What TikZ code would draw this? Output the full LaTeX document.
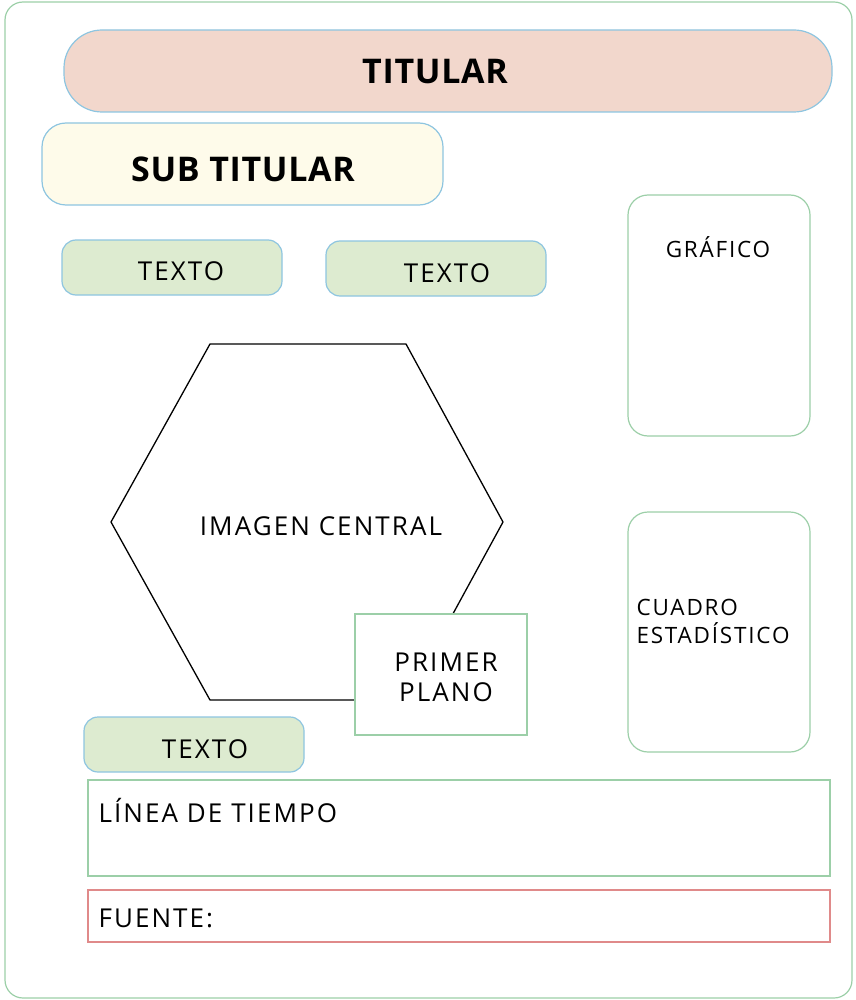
\documentclass[tikz,border=0pt]{standalone}
\usepackage{fontspec}
\setmainfont{Open Sans}
\newfontfamily\wide[LetterSpace=8]{Open Sans}
\newfontfamily\tit[LetterSpace=2]{Open Sans}
\definecolor{gb}{HTML}{9CCFA8}
\definecolor{bb}{HTML}{8EC5E0}
\definecolor{pk}{HTML}{F2D7CC}
\definecolor{cr}{HTML}{FEFBEA}
\definecolor{lg}{HTML}{DDEBD0}
\definecolor{rb}{HTML}{E08A8A}
\begin{document}
\begin{tikzpicture}[x=1pt,y=-1pt,
 pill/.style={draw=bb,line width=1.2pt,fill=lg,rounded corners=14pt},
 gbox/.style={draw=gb,line width=1.2pt,fill=white},
 lbl/.style={font=\wide\fontsize{26}{30}\selectfont},
 sm/.style={font=\wide\fontsize{22.5}{28}\selectfont},
 ttl/.style={font=\tit\fontsize{34}{38}\selectfont\bfseries}]
\useasboundingbox (0,0) rectangle (855,1000);
\draw[gb,line width=1.2pt,rounded corners=18pt] (5,2) rectangle (852,998);
\draw[draw=bb,line width=1.2pt,fill=pk,rounded corners=38pt] (64,30) rectangle (832,112);
\node[ttl] (t) at (435,71) {TITULAR};
\draw[draw=bb,line width=1.2pt,fill=cr,rounded corners=24pt] (42,123) rectangle (443,205);
\node[ttl] (st) at (243,169) {SUB TITULAR};
\draw[pill] (62,240) rectangle (282,295);
\node[lbl] (t1) at (181,271) {TEXTO};
\draw[pill] (326,241) rectangle (546,296);
\node[lbl] (t2) at (447,273) {TEXTO};
\draw[pill] (84,717) rectangle (304,772);
\node[lbl] (t3) at (205,749) {TEXTO};
\draw[gbox,rounded corners=20pt] (628,195) rectangle (810,436);
\node[sm] (g) at (718,247) {GRÁFICO};
\draw[gbox,rounded corners=20pt] (628,512) rectangle (810,752);
\node[sm,anchor=west,align=left] (c) at (633,621) {CUADRO\\ESTADÍSTICO};
\draw[black,line width=1.3pt] (210,344) -- (406,344) -- (503,522) -- (406,700) -- (210,700) -- (111,522) -- cycle;
\node[lbl] (ic) at (321,526) {IMAGEN CENTRAL};
\draw[gbox] (355,614) rectangle (527,735);
\node[lbl,align=center,font=\wide\fontsize{26}{30}\selectfont] (pp) at (446,677) {PRIMER\\PLANO};
\draw[gbox] (88,780) rectangle (830,876);
\node[lbl,anchor=west] (lt) at (95,811) {LÍNEA DE TIEMPO};
\draw[draw=rb,line width=1.2pt] (88,890) rectangle (830,942);
\node[lbl,anchor=west] (f) at (95,918) {FUENTE:};
\end{tikzpicture}
\end{document}
